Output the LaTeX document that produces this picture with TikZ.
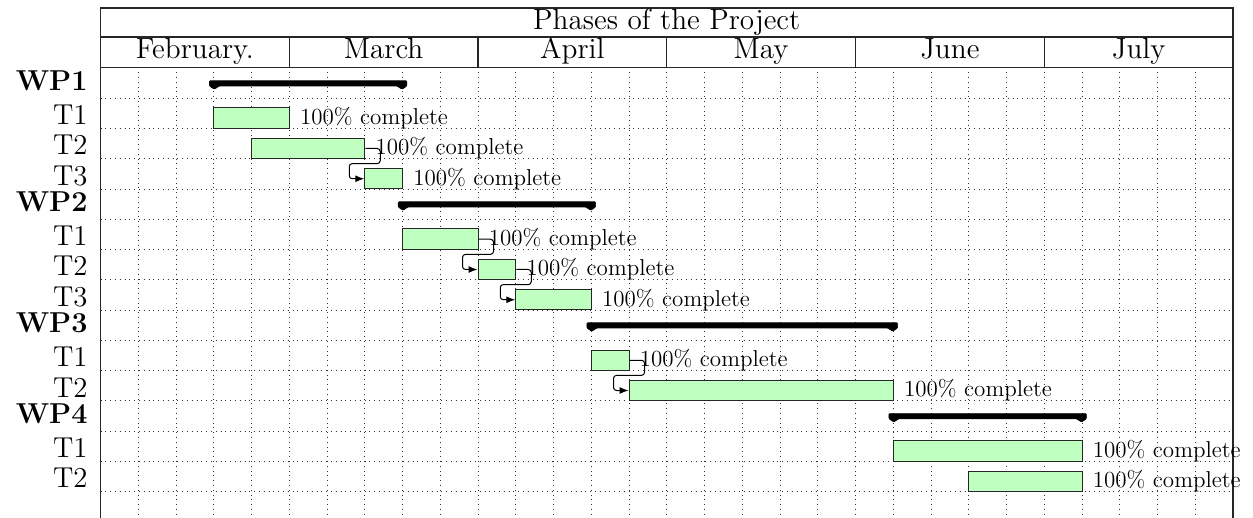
\documentclass[tikz,border=0pt]{standalone}
\usetikzlibrary{arrows.meta,calc}
\newcommand\gtask[4]{%
  \node[taskbar, minimum width={(#4-#3)*18.875pt}] (#1) at ({100.5+37.75*(#3+#4)/2},{68+30.25*(#2+1)-10.25}) {};
  \node[plabel] (#1l) at ([xshift=5pt]#1.east) {100\% complete};}
\newcommand\ggroup[4]{%
  \pgfmathsetmacro\grpA{100.5+37.75*#3}%
  \pgfmathsetmacro\grpB{100.5+37.75*#4}%
  \pgfmathsetmacro\grpY{68+30.25*#2}%
  \filldraw[groupbar] (\grpA-4.3,\grpY+12.8) -- (\grpB+4.3,\grpY+12.8) -- (\grpB+4.3,\grpY+18) -- (\grpB-0.5,\grpY+21.3) -- (\grpB-5.5,\grpY+18) -- (\grpA+5.5,\grpY+18) -- (\grpA+0.5,\grpY+21.3) -- (\grpA-4.3,\grpY+18) -- cycle;}
\newcommand\glink[2]{%
  \draw[link] (#1.east) -- ++(15,0) |- ($(#1.east)!.5!(#2.west)$) -| ($(#2.west)+(-15,0)$) -- (#2.west);}
\begin{document}
\begin{tikzpicture}[x=0.5pt,y=-0.5pt,
  frame/.style={draw=black!85, line width=0.6pt},
  cell/.style={frame, inner sep=0pt, text height=10pt, text depth=3.25pt, font=\fontsize{14.6}{17}\selectfont},
  gridline/.style={dotted, line width=0.4pt, black!80},
  taskbar/.style={draw=black!85, fill=green!25, line width=0.5pt, minimum height=10.25pt, inner sep=0pt},
  plabel/.style={anchor=west, inner sep=0pt, font=\fontsize{11.5}{13}\selectfont},
  tlabel/.style={anchor=base east, inner sep=0pt, font=\fontsize{14.4}{17}\selectfont},
  wlabel/.style={anchor=base east, inner sep=0pt, font=\fontsize{14.4}{17}\selectfont\bfseries},
  groupbar/.style={fill=black, draw=black, line width=0.3pt, line join=round, rounded corners=0.4pt},
  link/.style={draw=black, line width=0.5pt, rounded corners=1.5pt, -{Latex[length=4.5pt,width=3.5pt]}}
]
\useasboundingbox (0,0) rectangle (1253,518);
\clip (0,0) rectangle (1253,518);
% grid
\foreach \k in {1,...,29} \draw[gridline] ({100.5+37.75*\k},67.5) -- ({100.5+37.75*\k},530);
\foreach \j in {1,...,14} \draw[gridline] (100.5,{68+30.25*\j}) -- (1233,{68+30.25*\j});
% header
\node[cell, minimum width=566.25pt, minimum height=14.5pt] (title) at (666.75,22.5) {Phases of the Project};
\foreach \m [count=\i from 0] in {February.,March,April,May,June,July}
  \node[cell, minimum width=94.375pt, minimum height=15.25pt] (month\i) at ({100.5+188.75*\i+94.375},52.25) {\m};
\draw[frame] (100.5,67.5) -- (100.5,530);
\draw[frame] (1233,67.5) -- (1233,530);
% labels
\node[wlabel] (l0) at (88,{68+22.5}) {WP1};
\node[tlabel] (l1) at (88,{68+30.25*1+26.5}) {T1};
\node[tlabel] (l2) at (88,{68+30.25*2+26.5}) {T2};
\node[tlabel] (l3) at (88,{68+30.25*3+26.5}) {T3};
\node[wlabel] (l4) at (88,{68+30.25*4+22.5}) {WP2};
\node[tlabel] (l5) at (88,{68+30.25*5+26.5}) {T1};
\node[tlabel] (l6) at (88,{68+30.25*6+26.5}) {T2};
\node[tlabel] (l7) at (88,{68+30.25*7+26.5}) {T3};
\node[wlabel] (l8) at (88,{68+30.25*8+22.5}) {WP3};
\node[tlabel] (l9) at (88,{68+30.25*9+26.5}) {T1};
\node[tlabel] (l10) at (88,{68+30.25*10+26.5}) {T2};
\node[wlabel] (l11) at (88,{68+30.25*11+22.5}) {WP4};
\node[tlabel] (l12) at (88,{68+30.25*12+26.5}) {T1};
\node[tlabel] (l13) at (88,{68+30.25*13+26.5}) {T2};
% groups
\ggroup{g1}{0}{3}{8}
\ggroup{g2}{4}{8}{13}
\ggroup{g3}{8}{13}{21}
\ggroup{g4}{11}{21}{26}
% tasks
\gtask{aa}{1}{3}{5}
\gtask{ab}{2}{4}{7}
\gtask{ac}{3}{7}{8}
\gtask{ba}{5}{8}{10}
\gtask{bb}{6}{10}{11}
\gtask{bc}{7}{11}{13}
\gtask{ca}{9}{13}{14}
\gtask{cb}{10}{14}{21}
\gtask{da}{12}{21}{26}
\gtask{db}{13}{23}{26}
% links
\glink{ab}{ac}
\glink{ba}{bb}
\glink{bb}{bc}
\glink{ca}{cb}
\end{tikzpicture}
\end{document}
